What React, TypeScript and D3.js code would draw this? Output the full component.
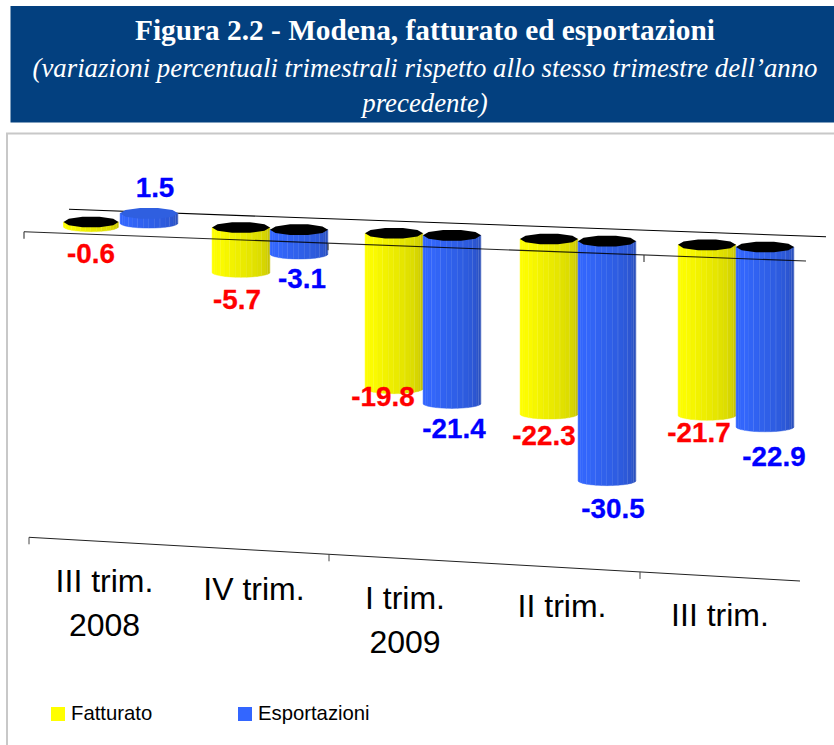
import * as d3 from 'd3';
import React from 'react';

const categories = ['III trim. 2008', 'IV trim.', 'I trim. 2009', 'II trim.', 'III trim.'];
const categoryLines = [['III trim.', '2008'], ['IV trim.'], ['I trim.', '2009'], ['II trim.'], ['III trim.']];
const fatturato = [-0.6, -5.7, -19.8, -22.3, -21.7];
const esportazioni = [1.5, -3.1, -21.4, -30.5, -22.9];
const seriesNames = ['Fatturato', 'Esportazioni'];

const width = 834;
const height = 745;

// Label nudges, the original labels were placed by hand
const fatturatoLabelOffset = [[0, 36], [-4, 37], [-11, 17], [-5, 31], [-8, 26.5]];
const esportazioniLabelOffset = [[6, -27], [3, 34], [2, 34.5], [6, 37], [9, 39]];
const categoryDx = [-15.5, -16, -18, -16, -16];

const palette = {
  yellow: ['#ffff00', '#fbfb00', '#ecec00', '#dcdc00', '#c4c000'],
  blue: ['#3366ff', '#3366fb', '#2f60ea', '#2c58d8', '#2a4fb8'],
};

// perspective: groups get a little wider to the right
const x = d3.scaleLinear().domain([0, 1, 2, 3, 4]).range([120, 270, 423, 578, 736]);
// height of a bar in px
const h = d3.scaleLinear().domain([0, 30.5]).range([0, 239.5]);
// the zero plane leans down to the right
const zeroY = d3.scaleLinear().domain([92, 765]).range([222, 247]);

const frontAxis = d3.scaleLinear().domain([24, 806]).range([231.8, 261]);
const backAxis = d3.scaleLinear().domain([69, 826]).range([209.3, 236.8]);
const bottomAxis = d3.scaleLinear().domain([29, 800]).range([537.3, 581]);
const labelBase = d3.scaleLinear().domain([104.5, 720]).range([592, 626]);

const frontTicks = [24, 328, 644];
const bottomTicks = [29, 329, 640];

const barRx = 29;
const barRy = 5;
const facets = 16;

const line = d3.line();

// lumpy ellipse, the source cylinders are low poly
const topPath = (cx: number, cy: number, rx: number) =>
  line(
    d3.range(10).map((i) => {
      const a = (i / 10) * 2 * Math.PI;
      return [cx + rx * Math.cos(a), cy + (barRy + 0.6) * Math.sin(a)] as [number, number];
    })
  ) + 'Z';

const Cylinder = ({ cx, value, colors, topColor, rx }: any) => {
  const y0 = zeroY(cx);
  const yTop = value < 0 ? y0 : y0 - h(value) + 1;
  const yBottom = value < 0 ? y0 + h(-value) : y0 - 1;
  const ramp = d3
    .scaleLinear<string>()
    .domain(d3.range(colors.length).map((i) => i / (colors.length - 1)))
    .range(colors);
  const angles = d3.range(facets + 1).map((i) => Math.PI - (i / facets) * Math.PI);
  return (
    <g>
      {d3.range(facets).map((i) => {
        const x1 = cx + rx * Math.cos(angles[i]);
        const x2 = cx + rx * Math.cos(angles[i + 1]);
        const b1 = yBottom + barRy * Math.sin(angles[i]);
        const b2 = yBottom + barRy * Math.sin(angles[i + 1]);
        return (
          <g key={i}>
            <path
              d={line([[x1, yTop], [x2, yTop], [x2, b2], [x1, b1]]) + 'Z'}
              fill={ramp(i / (facets - 1))}
              stroke={ramp(i / (facets - 1))}
              strokeWidth={0.4}
            />
            {i % 2 === 1 && i > 2 && (
              <line x1={x2} x2={x2} y1={yTop} y2={b2} stroke="#fff" strokeOpacity={0.3} strokeWidth={0.8} />
            )}
          </g>
        );
      })}
      <path d={topPath(cx, yTop, rx)} fill={topColor} />
    </g>
  );
};

export default function App() {
  const yellowCx = categories.map((_, i) => x(i) - barRx);
  const blueCx = categories.map((_, i) => x(i) + barRx);

  const labelY = (cx: number, v: number) => zeroY(cx) + (v < 0 ? h(-v) : 0);

  return (
    <svg
      width={width}
      height={height}
      style={{ position: 'absolute', left: 0, top: 0, display: 'block' }}
    >
      <rect width={width} height={height} fill="#fff" />

      {/* Header */}
      <rect x={10.5} y={6} width={824} height={116.5} fill="#03407f" />
      <g fontFamily="'Liberation Serif'" fill="#fff" textAnchor="middle">
        <text x={425} y={40} fontSize={29.3} fontWeight="bold" textLength={580} lengthAdjust="spacingAndGlyphs">
          Figura 2.2 - Modena, fatturato ed esportazioni
        </text>
        <text x={425} y={77} fontSize={26.8} fontStyle="italic" textLength={785} lengthAdjust="spacingAndGlyphs">
          (variazioni percentuali trimestrali rispetto allo stesso trimestre dell’anno
        </text>
        <text x={425} y={112} fontSize={26.8} fontStyle="italic">
          precedente)
        </text>
      </g>

      {/* Chart frame, open on the right and at the bottom */}
      <path d="M7,745V133.5H834" fill="none" stroke="#c8c8c8" strokeWidth={2} />

      {/* Back axis */}
      <path
        d={line(backAxis.domain().map((d) => [d, backAxis(d)]))!}
        fill="none"
        stroke="#000"
        strokeWidth={1.1}
      />

      {/* Bars */}
      {categories.map((c, i) => (
        <g key={c}>
          <Cylinder cx={yellowCx[i]} value={fatturato[i]} colors={palette.yellow} topColor="#000" rx={i === 0 ? 27.5 : barRx} />
          <Cylinder
            cx={blueCx[i]}
            value={esportazioni[i]}
            colors={palette.blue}
            topColor={esportazioni[i] > 0 ? '#2f5fe0' : '#000'}
            rx={barRx}
          />
        </g>
      ))}

      {/* Front axis */}
      <g fill="none" stroke="#000" strokeWidth={1.1}>
        <path d={line(frontAxis.domain().map((d) => [d, frontAxis(d)]))!} strokeOpacity={0.85} />
        {frontTicks.map((t) => (
          <path key={t} d={line([[t, frontAxis(t)], [t, frontAxis(t) + 7]])!} stroke="#333" />
        ))}
      </g>

      {/* Value labels */}
      <g fontFamily="'Liberation Sans'" fontWeight="bold" fontSize={27.8} textAnchor="middle" strokeWidth={0.3}>
        {fatturato.map((v, i) => (
          <text
            key={i}
            x={yellowCx[i] + fatturatoLabelOffset[i][0]}
            y={labelY(yellowCx[i], v) + fatturatoLabelOffset[i][1]}
            fill="#ff0000"
            stroke="#ff0000"
          >
            {v.toFixed(1)}
          </text>
        ))}
        {esportazioni.map((v, i) => (
          <text
            key={i}
            x={blueCx[i] + esportazioniLabelOffset[i][0]}
            y={labelY(blueCx[i], v) + esportazioniLabelOffset[i][1]}
            fill="#0000ff"
            stroke="#0000ff"
          >
            {v.toFixed(1)}
          </text>
        ))}
      </g>

      {/* Bottom axis */}
      <g fill="none" stroke="#222" strokeWidth={1}>
        <path d={line(bottomAxis.domain().map((d) => [d, bottomAxis(d)]))!} />
        {bottomTicks.map((t) => (
          <path key={t} d={line([[t, bottomAxis(t)], [t, bottomAxis(t) + 7]])!} stroke="#444" />
        ))}
      </g>

      {/* Category labels */}
      <g fontFamily="'Liberation Sans'" fontSize={32} textAnchor="middle" fill="#000">
        {categories.map((c, i) => {
          const cx = x(i) + categoryDx[i];
          return (
            <text key={c} x={cx} y={labelBase(cx)}>
              {categoryLines[i].map((l, j) => (
                <tspan key={j} x={cx} dy={j === 0 ? 0 : 44}>
                  {l}
                </tspan>
              ))}
            </text>
          );
        })}
      </g>

      {/* Legend */}
      <g fontFamily="'Liberation Sans'" fontSize={20.3} fill="#000">
        <rect x={51} y={707} width={14} height={14} fill="#ffff00" />
        <text x={71} y={720}>{seriesNames[0]}</text>
        <rect x={238} y={707} width={14} height={14} fill="#3366ff" />
        <text x={258} y={720}>{seriesNames[1]}</text>
      </g>
    </svg>
  );
}
